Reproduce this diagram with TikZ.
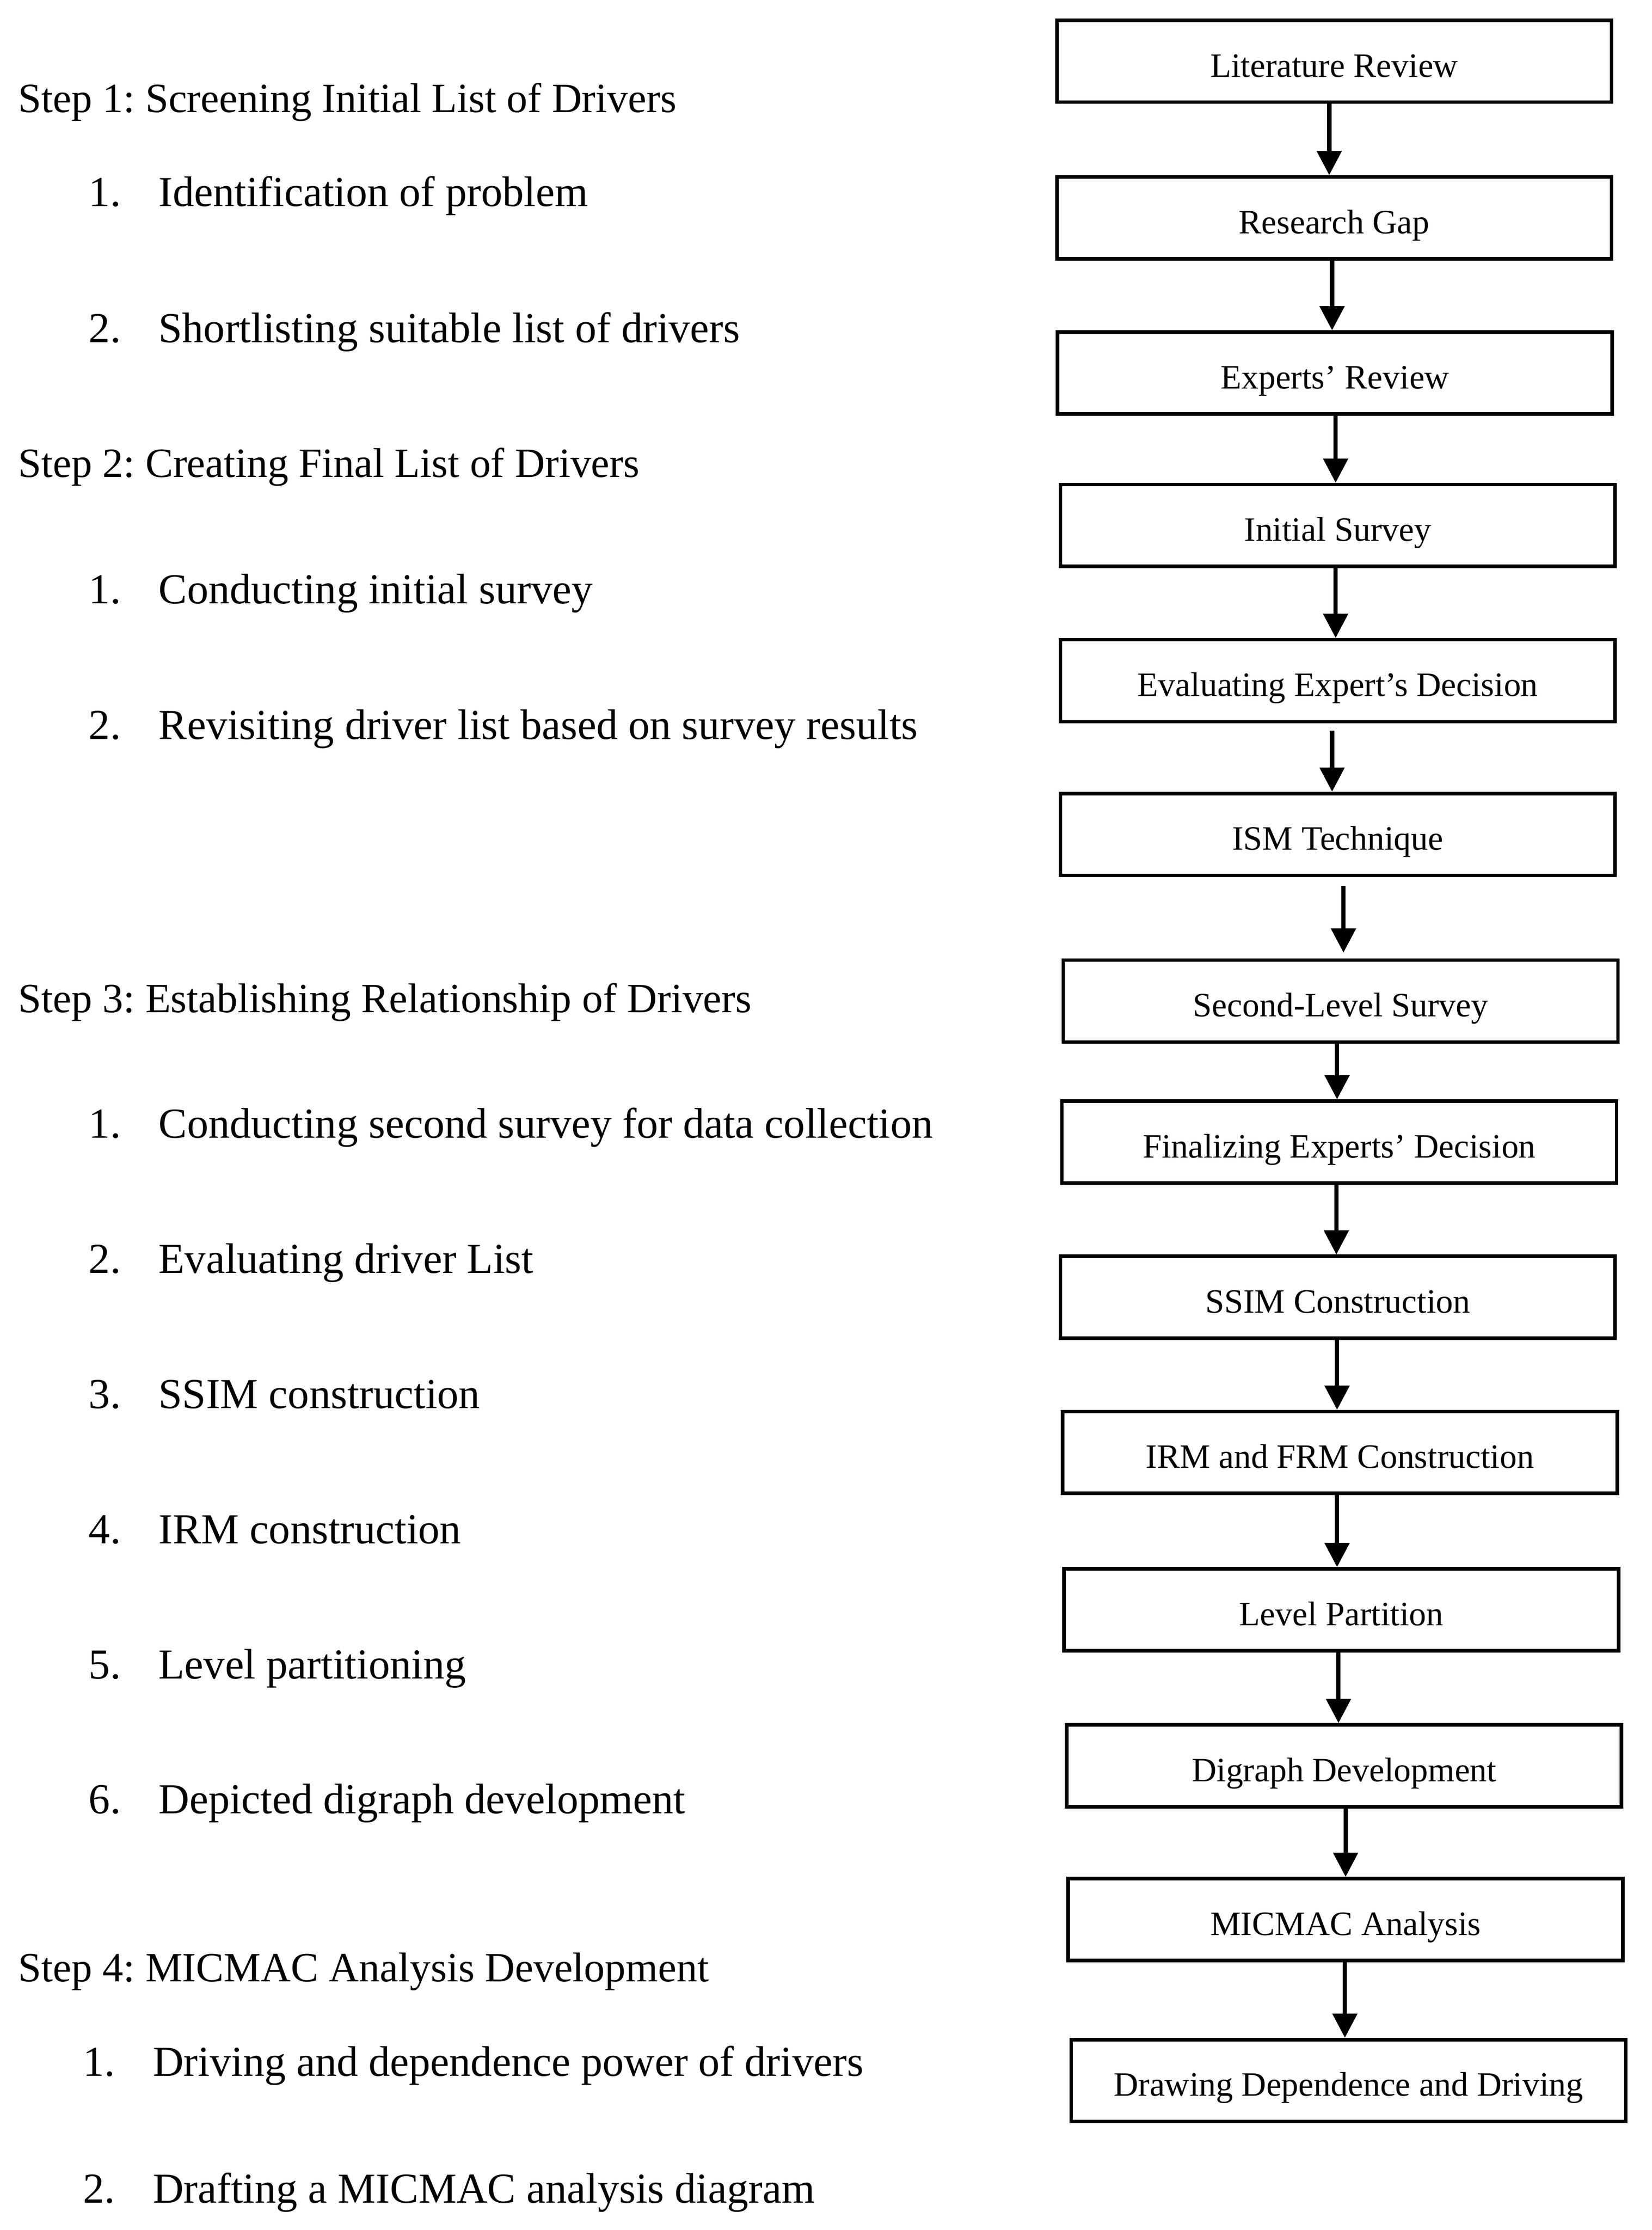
\documentclass[tikz,border=0pt]{standalone}
\usepackage{fontspec}
\setmainfont{Liberation Serif}
\usetikzlibrary{arrows.meta}
\frenchspacing
\begin{document}
\begin{tikzpicture}[x=0.5pt,y=-0.5pt]
\tikzset{
  flowbox/.style={draw, line width=1.25pt, minimum width=194.75pt, minimum height=28.75pt,
    inner sep=0pt, text height=11pt, text depth=0pt, font=\fontsize{12}{14}\selectfont},
  arr/.style={line width=1.5pt, -{Triangle[length=8.5pt,width=8.5pt]}},
  steptxt/.style={anchor=base west, inner sep=0pt, font=\fontsize{14.6}{17}\selectfont},
  itemtxt/.style={anchor=base west, inner sep=0pt, font=\fontsize{15}{17}\selectfont},
}
\newcommand\numitem[2]{\makebox[24.5pt][l]{#1}#2}
\useasboundingbox (0,0) rectangle (1160,1566);
\fill[white] (0,0) rectangle (1160,1566);

% left column
\node[steptxt] (s1) at (12.5,79) {Step 1: Screening Initial List of Drivers};
\node[itemtxt] (i11) at (62,145) {\numitem{1.}{Identification of problem}};
\node[itemtxt] (i12) at (62,240.5) {\numitem{2.}{Shortlisting suitable list of drivers}};
\node[steptxt] (s2) at (12.5,335) {Step 2: Creating Final List of Drivers};
\node[itemtxt] (i21) at (62,424) {\numitem{1.}{Conducting initial survey}};
\node[itemtxt] (i22) at (62,519) {\numitem{2.}{Revisiting driver list based on survey results}};
\node[steptxt] (s3) at (12.5,711) {Step 3: Establishing Relationship of Drivers};
\node[itemtxt] (i31) at (62,799) {\numitem{1.}{Conducting second survey for data collection}};
\node[itemtxt] (i32) at (62,894) {\numitem{2.}{Evaluating driver List}};
\node[itemtxt] (i33) at (62,989) {\numitem{3.}{SSIM construction}};
\node[itemtxt] (i34) at (62,1084) {\numitem{4.}{IRM construction}};
\node[itemtxt] (i35) at (62,1179) {\numitem{5.}{Level partitioning}};
\node[itemtxt] (i36) at (62,1273.5) {\numitem{6.}{Depicted digraph development}};
\node[steptxt] (s4) at (12.5,1391.5) {Step 4: MICMAC Analysis Development};
\node[itemtxt] (i41) at (58,1458) {\numitem{1.}{Driving and dependence power of drivers}};
\node[itemtxt] (i42) at (58,1547) {\numitem{2.}{Drafting a MICMAC analysis diagram}};

% flow boxes
\node[flowbox] (b1) at (937,43) {Literature Review};
\node[flowbox] (b2) at (937,153) {Research Gap};
\node[flowbox] (b3) at (937.5,262) {Experts’ Review};
\node[flowbox] (b4) at (939.5,369) {Initial Survey};
\node[flowbox] (b5) at (939.5,478) {Evaluating Expert’s Decision};
\node[flowbox] (b6) at (939.5,586) {ISM Technique};
\node[flowbox] (b7) at (941.5,703) {Second-Level Survey};
\node[flowbox] (b8) at (940.5,802) {Finalizing Experts’ Decision};
\node[flowbox] (b9) at (939.5,911) {SSIM Construction};
\node[flowbox] (b10) at (941,1020) {IRM and FRM Construction};
\node[flowbox] (b11) at (942,1130.5) {Level Partition};
\node[flowbox] (b12) at (944,1240) {Digraph Development};
\node[flowbox] (b13) at (945,1348) {MICMAC Analysis};
\node[flowbox] (b14) at (947,1461) {Drawing Dependence and Driving};

% arrow x positions
\coordinate (x1) at (933.5,0);
\coordinate (x2) at (935.5,0);
\coordinate (x3) at (938,0);
\coordinate (x4) at (938,0);
\coordinate (x5) at (935.5,0);
\coordinate (x6) at (943.5,0);
\coordinate (x7) at (939,0);
\coordinate (x8) at (938.5,0);
\coordinate (x9) at (939,0);
\coordinate (x10) at (939,0);
\coordinate (x11) at (940,0);
\coordinate (x12) at (945,0);
\coordinate (x13) at (944.5,0);

\draw[arr] (b1.south -| x1) -- (b2.north -| x1);
\draw[arr] (b2.south -| x2) -- (b3.north -| x2);
\draw[arr] (b3.south -| x3) -- (b4.north -| x3);
\draw[arr] (b4.south -| x4) -- (b5.north -| x4);
\draw[arr, shorten <=2.5pt] (b5.south -| x5) -- (b6.north -| x5);
\draw[arr, shorten <=3pt, shorten >=2pt] (b6.south -| x6) -- (b7.north -| x6);
\draw[arr] (b7.south -| x7) -- (b8.north -| x7);
\draw[arr] (b8.south -| x8) -- (b9.north -| x8);
\draw[arr] (b9.south -| x9) -- (b10.north -| x9);
\draw[arr] (b10.south -| x10) -- (b11.north -| x10);
\draw[arr] (b11.south -| x11) -- (b12.north -| x11);
\draw[arr] (b12.south -| x12) -- (b13.north -| x12);
\draw[arr] (b13.south -| x13) -- (b14.north -| x13);
\end{tikzpicture}
\end{document}
